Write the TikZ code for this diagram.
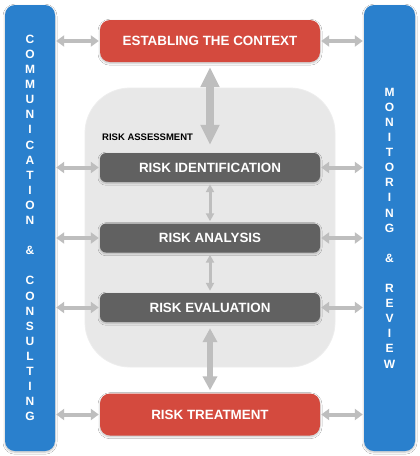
\documentclass[tikz,border=0pt]{standalone}
\usepackage{fontspec}
\setmainfont{Liberation Sans}
\usetikzlibrary{arrows.meta,shadows.blur}
\definecolor{barblue}{HTML}{2A80CD}
\definecolor{boxred}{HTML}{D44A3E}
\definecolor{boxgray}{HTML}{616161}
\definecolor{bggray}{HTML}{E8E8E8}
\definecolor{arrowgray}{HTML}{BEBEBE}
\tikzset{
  shadowed/.style={blur shadow={shadow blur steps=6, shadow xshift=0pt, shadow yshift=-1.2pt, shadow blur radius=2pt, shadow opacity=25}},
  sidebar/.style={shadowed, fill=barblue, rounded corners=10pt, text=white, align=center,
    font=\fontsize{12}{15.1}\selectfont\bfseries, inner sep=0pt},
  redbox/.style={shadowed, fill=boxred, rounded corners=10pt, minimum width=220pt, minimum height=42pt,
    text=white, font=\fontsize{13.4}{15}\selectfont\bfseries, inner sep=0pt},
  graybox/.style={shadowed, fill=boxgray, rounded corners=6pt, minimum width=220pt, minimum height=29pt,
    text=white, font=\fontsize{13.4}{15}\selectfont\bfseries, inner sep=0pt},
  assessbg/.style={fill=bggray, draw=black!7, line width=0.8pt, rounded corners=45pt, minimum width=250pt, minimum height=279pt, inner sep=0pt},
  harrow/.style={draw=arrowgray, line width=4pt, {Triangle[width=11pt,length=8pt]}-{Triangle[width=11pt,length=8pt]}, shorten >=1pt, shorten <=1pt},
  vthin/.style={draw=arrowgray, line width=3pt, {Triangle[width=8pt,length=8pt]}-{Triangle[width=8pt,length=8pt]}, shorten >=2pt, shorten <=2pt},
  vbig/.style={draw=arrowgray, line width=8pt, {Triangle[width=18pt,length=20pt]}-{Triangle[width=18pt,length=20pt]}},
  vmid/.style={draw=arrowgray, line width=6pt, {Triangle[width=14pt,length=14pt]}-{Triangle[width=14pt,length=14pt]}},
}
\begin{document}
\begin{tikzpicture}[x=1pt,y=1pt]
\fill[white] (0,0) rectangle (420,-456);
\useasboundingbox (0,0) rectangle (420,-456);
% assessment background
\node[assessbg] (ra) at (210,-227.5) {};
\node[anchor=west, font=\fontsize{9.5}{11}\selectfont\bfseries, inner sep=0pt] (ralabel) at (102,-137.7) {RISK ASSESSMENT};
% side bars
\node[sidebar, minimum width=50pt, minimum height=446pt] (lb) at (30,-228) {C\\O\\M\\M\\U\\N\\I\\C\\A\\T\\I\\O\\N\\[15.1pt]\&\\[15.1pt]C\\O\\N\\S\\U\\L\\T\\I\\N\\G};
\node[sidebar, minimum width=51pt, minimum height=446pt] (rb) at (389.5,-228) {M\\O\\N\\I\\T\\O\\R\\I\\N\\G\\[15.1pt]\&\\[15.1pt]R\\E\\V\\I\\E\\W};
% boxes
\node[redbox] (top) at (210,-41) {ESTABLING THE CONTEXT};
\node[graybox] (ident) at (210,-167.5) {RISK IDENTIFICATION};
\node[graybox] (anal) at (210,-238) {RISK ANALYSIS};
\node[graybox] (eval) at (210,-307.5) {RISK EVALUATION};
\node[redbox] (treat) at (210,-414.5) {RISK TREATMENT};
% vertical arrows
\draw[vbig, shorten <=5pt, shorten >=8pt] (top.south) -- (ident.north);
\draw[vthin] (ident.south) -- (anal.north);
\draw[vthin] (anal.south) -- (eval.north);
\draw[vmid, shorten <=6pt, shorten >=3pt] (eval.south) -- (treat.north);
% horizontal arrows
\foreach \b in {top,ident,anal,eval,treat}{
  \draw[harrow] (lb.east |- \b.west) -- (\b.west);
  \draw[harrow] (\b.east) -- (rb.west |- \b.east);
}
\end{tikzpicture}
\end{document}
